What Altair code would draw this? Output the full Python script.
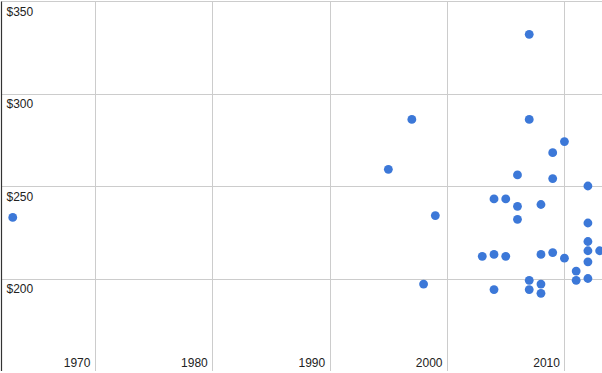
import altair as alt
import pandas as pd

years = [1963, 1995, 1997, 1998, 1999,
         2003, 2004, 2004, 2004, 2005, 2005,
         2006, 2006, 2006, 2007, 2007, 2007, 2007,
         2008, 2008, 2008, 2008,
         2009, 2009, 2009, 2010, 2010,
         2011, 2011,
         2012, 2012, 2012, 2012, 2012, 2012, 2013]
prices = [233, 259, 286, 197, 234,
          212, 243, 213, 194, 243, 212,
          256, 239, 232, 332, 286, 199, 194,
          240, 213, 197, 192,
          268, 254, 214, 274, 211,
          204, 199,
          250, 230, 220, 215, 209, 200, 215]

df = pd.DataFrame({"year": years, "price": prices})

chart = alt.Chart(df).mark_circle(size=78, color="#3c78d8", opacity=1).encode(
    x=alt.X("year:Q",
            scale=alt.Scale(domain=[1962, 2013.2], nice=False, zero=False),
            axis=alt.Axis(title=None, values=[1970, 1980, 1990, 2000, 2010],
                          format="d", ticks=False, labelAlign="right",
                          labelBaseline="alphabetic", labelPadding=-5,
                          labelOffset=-5, domainColor="#333333",
                          domainWidth=1.2, gridColor="#cccccc",
                          labelFont="Liberation Sans", labelFontSize=12,
                          labelColor="#222222")),
    y=alt.Y("price:Q",
            scale=alt.Scale(domain=[150, 350], nice=False, zero=False),
            axis=alt.Axis(title=None, values=[200, 250, 300, 350],
                          format="$d", ticks=False, labelAlign="left",
                          labelBaseline="top", labelPadding=-5,
                          labelOffset=5, domainColor="#333333",
                          domainWidth=1.2, gridColor="#cccccc",
                          labelFont="Liberation Sans", labelFontSize=12,
                          labelColor="#222222")),
).properties(
    width=601, height=370,
    autosize=alt.AutoSizeParams(type="none"),
    padding={"left": 1, "top": 1, "right": 0, "bottom": 0},
).configure_view(stroke=None)

chart.save("out.html", embed_options={"renderer": "svg", "actions": False})
